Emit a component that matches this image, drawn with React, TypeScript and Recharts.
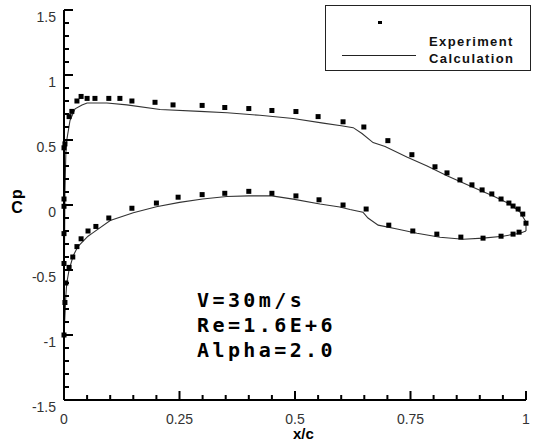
import React from "react";
import {
  ComposedChart,
  Line,
  Scatter,
  XAxis,
  YAxis
} from "recharts";

type Pt = {x: number; cp: number};

// tick labels
const xMajorTicks = [0, 0.25, 0.5, 0.75, 1];
const xTickLabels = ["0", "0.25", "0.5", "0.75", "1"];
const yMajorTicks = [-1.5, -1, -0.5, 0, 0.5, 1, 1.5];
const yTickLabels = ["-1.5", "-1", "-0.5", "0", "0.5", "1", "1.5"];

// experiment, upper branch
const expUpper: Pt[] = [
  {x: 0, cp: 0.44}, {x: 0.002, cp: 0.47}, {x: 0.011, cp: 0.68}, {x: 0.017, cp: 0.72},
  {x: 0.028, cp: 0.8}, {x: 0.037, cp: 0.835}, {x: 0.05, cp: 0.82}, {x: 0.067, cp: 0.82},
  {x: 0.097, cp: 0.82}, {x: 0.121, cp: 0.82}, {x: 0.147, cp: 0.8}, {x: 0.197, cp: 0.79},
  {x: 0.236, cp: 0.77}, {x: 0.299, cp: 0.766}, {x: 0.348, cp: 0.75}, {x: 0.4, cp: 0.742},
  {x: 0.45, cp: 0.727}, {x: 0.502, cp: 0.719}, {x: 0.55, cp: 0.68}, {x: 0.604, cp: 0.64},
  {x: 0.649, cp: 0.6}, {x: 0.701, cp: 0.495}, {x: 0.753, cp: 0.387}, {x: 0.803, cp: 0.294},
  {x: 0.829, cp: 0.247}, {x: 0.857, cp: 0.193}, {x: 0.883, cp: 0.155}, {x: 0.905, cp: 0.116},
  {x: 0.926, cp: 0.085}, {x: 0.946, cp: 0.046}, {x: 0.963, cp: 0.015}, {x: 0.972, cp: -0.008},
  {x: 0.983, cp: -0.031}, {x: 0.993, cp: -0.07}, {x: 1.0, cp: -0.14}
];

// experiment, lower branch
const expLower: Pt[] = [
  {x: 0, cp: 0.046}, {x: 0, cp: -0.01}, {x: 0, cp: -0.22}, {x: 0, cp: -0.45},
  {x: 0.004, cp: -0.6}, {x: 0.002, cp: -0.75}, {x: 0, cp: -1.0}, {x: 0.011, cp: -0.48},
  {x: 0.019, cp: -0.4}, {x: 0.028, cp: -0.32}, {x: 0.037, cp: -0.26}, {x: 0.052, cp: -0.2},
  {x: 0.069, cp: -0.165}, {x: 0.097, cp: -0.1}, {x: 0.147, cp: -0.025}, {x: 0.2, cp: 0.015},
  {x: 0.247, cp: 0.06}, {x: 0.299, cp: 0.08}, {x: 0.348, cp: 0.09}, {x: 0.4, cp: 0.105},
  {x: 0.45, cp: 0.09}, {x: 0.502, cp: 0.07}, {x: 0.552, cp: 0.04}, {x: 0.604, cp: 0.0},
  {x: 0.654, cp: -0.031}, {x: 0.703, cp: -0.155}, {x: 0.755, cp: -0.2}, {x: 0.807, cp: -0.224},
  {x: 0.859, cp: -0.247}, {x: 0.907, cp: -0.255}, {x: 0.946, cp: -0.24}, {x: 0.972, cp: -0.224},
  {x: 0.985, cp: -0.209}
];

// calculation, upper surface
const calcUpper: Pt[] = [
  {x: 0, cp: -1.0}, {x: 0.001, cp: -0.4}, {x: 0.002, cp: 0.1}, {x: 0.004, cp: 0.4},
  {x: 0.006, cp: 0.5}, {x: 0.013, cp: 0.65}, {x: 0.024, cp: 0.74}, {x: 0.039, cp: 0.77},
  {x: 0.05, cp: 0.785}, {x: 0.093, cp: 0.785}, {x: 0.136, cp: 0.77}, {x: 0.208, cp: 0.735},
  {x: 0.294, cp: 0.72}, {x: 0.353, cp: 0.71}, {x: 0.424, cp: 0.69}, {x: 0.496, cp: 0.665},
  {x: 0.561, cp: 0.63}, {x: 0.6, cp: 0.61}, {x: 0.626, cp: 0.595}, {x: 0.645, cp: 0.55},
  {x: 0.669, cp: 0.48}, {x: 0.695, cp: 0.45}, {x: 0.742, cp: 0.37}, {x: 0.786, cp: 0.3},
  {x: 0.829, cp: 0.225}, {x: 0.879, cp: 0.147}, {x: 0.929, cp: 0.07}, {x: 0.965, cp: 0.008},
  {x: 0.987, cp: -0.054}, {x: 1.0, cp: -0.13}, {x: 1.0, cp: -0.2}
];

// calculation, lower surface
const calcLower: Pt[] = [
  {x: 0, cp: -1.0}, {x: 0.002, cp: -0.85}, {x: 0.004, cp: -0.7}, {x: 0.006, cp: -0.6},
  {x: 0.011, cp: -0.5}, {x: 0.02, cp: -0.39}, {x: 0.03, cp: -0.32}, {x: 0.052, cp: -0.24},
  {x: 0.06, cp: -0.22}, {x: 0.1, cp: -0.12}, {x: 0.15, cp: -0.06}, {x: 0.2, cp: -0.014},
  {x: 0.25, cp: 0.02}, {x: 0.3, cp: 0.046}, {x: 0.352, cp: 0.065}, {x: 0.4, cp: 0.07},
  {x: 0.45, cp: 0.07}, {x: 0.496, cp: 0.045}, {x: 0.554, cp: 0.008}, {x: 0.597, cp: -0.015},
  {x: 0.619, cp: -0.035}, {x: 0.647, cp: -0.055}, {x: 0.658, cp: -0.1}, {x: 0.68, cp: -0.155},
  {x: 0.721, cp: -0.185}, {x: 0.764, cp: -0.217}, {x: 0.814, cp: -0.248}, {x: 0.864, cp: -0.263},
  {x: 0.907, cp: -0.255}, {x: 0.95, cp: -0.24}, {x: 0.987, cp: -0.217}, {x: 1.0, cp: -0.2}
];

const annotation = ["V=30m/s", "Re=1.6E+6", "Alpha=2.0"];

// minor ticks: every 0.05 on x, every 0.1 on y
const xTicks = Array.from({length: 21}, (_, i) => Math.round(i * 5) / 100);
const yTicks = Array.from({length: 31}, (_, i) => Math.round(-15 + i) / 10);

const near = (a: number, b: number) => Math.abs(a - b) < 1e-6;
const labelFont = "'Liberation Sans', Arial, sans-serif";

const XTick = (props: any) => {
  const {x, y, payload} = props;
  const idx = xMajorTicks.findIndex((t) => near(t, payload.value));
  return (
    <g>
      <line x1={x} x2={x} y1={y} y2={y - (idx >= 0 ? 9 : 5)} stroke="#000" strokeWidth={2} />
      {idx >= 0 && (
        <text x={x} y={y + 19} textAnchor="middle" dominantBaseline="central"
          fontFamily={labelFont} fontSize={14} fill="#333">
          {xTickLabels[idx]}
        </text>
      )}
    </g>
  );
};

const YTick = (props: any) => {
  const {x, y, payload} = props;
  const idx = yMajorTicks.findIndex((t) => near(t, payload.value));
  return (
    <g>
      <line x1={x} x2={x + (idx >= 0 ? 9 : 5)} y1={y} y2={y} stroke="#000" strokeWidth={2} />
      {idx >= 0 && (
        <text x={x - 8} y={y + 7} textAnchor="end" dominantBaseline="central"
          fontFamily={labelFont} fontSize={14} fill="#333">
          {yTickLabels[idx]}
        </text>
      )}
    </g>
  );
};

const square = (p: any) => (
  <rect x={p.cx - 2.5} y={p.cy - 2.5} width={5} height={5} fill="#000" />
);

export default function App() {
  return (
    <div style={{position: "absolute", left: 0, top: 0, width: 533, height: 442, background: "#fff"}}>
      <ComposedChart width={533} height={442} margin={{top: 10, right: 7, bottom: 0, left: 0}}>
        <XAxis
          type="number"
          dataKey="x"
          domain={[0, 1]}
          ticks={xTicks}
          interval={0}
          height={42}
          tickSize={0}
          tickMargin={0}
          tickLine={false}
          axisLine={{stroke: "#000", strokeWidth: 2}}
          tick={<XTick />}
          allowDuplicatedCategory={false}
        />
        <YAxis
          type="number"
          dataKey="cp"
          domain={[-1.5, 1.5]}
          ticks={yTicks}
          interval={0}
          width={64}
          tickSize={0}
          tickMargin={0}
          tickLine={false}
          axisLine={{stroke: "#000", strokeWidth: 2}}
          tick={<YTick />}
        />
        <Line data={calcUpper} dataKey="cp" type="linear" stroke="#333" strokeWidth={1.1}
          dot={false} activeDot={false} isAnimationActive={false} />
        <Line data={calcLower} dataKey="cp" type="linear" stroke="#333" strokeWidth={1.1}
          dot={false} activeDot={false} isAnimationActive={false} />
        <Scatter data={expUpper} dataKey="cp" shape={square} isAnimationActive={false} />
        <Scatter data={expLower} dataKey="cp" shape={square} isAnimationActive={false} />
      </ComposedChart>

      {/* axis titles */}
      <div style={{position: "absolute", left: 293, top: 425, fontFamily: labelFont,
        fontWeight: "bold", fontSize: 15, lineHeight: "18px"}}>x/c</div>
      <div style={{position: "absolute", left: 9, top: 187, width: 16, textAlign: "center",
        fontFamily: labelFont, fontWeight: "bold", fontSize: 16, lineHeight: "14px"}}>
        <div style={{display: "inline-block", transform: "rotate(-90deg)"}}>p</div>
        <div>C</div>
      </div>

      {/* legend */}
      <div style={{position: "absolute", left: 325, top: 5, width: 204, height: 64,
        border: "1.5px solid #222", background: "#fff"}}>
        <div style={{position: "absolute", left: 52, top: 15, width: 4, height: 3, background: "#000"}} />
        <div style={{position: "absolute", left: 16, top: 49, width: 74, height: 1, background: "#222"}} />
        <div style={{position: "absolute", left: 103, top: 27, fontFamily: labelFont, fontWeight: "bold",
          fontSize: 13, lineHeight: "17px", letterSpacing: 1.4, color: "#111"}}>
          Experiment<br />Calculation
        </div>
      </div>

      {/* run conditions */}
      <div style={{position: "absolute", left: 197, top: 288, fontFamily: "'DejaVu Sans Mono', monospace",
        fontWeight: "bold", fontSize: 20, lineHeight: "25px", letterSpacing: 3.4, color: "#000"}}>
        {annotation.map((s) => <div key={s}>{s}</div>)}
      </div>
    </div>
  );
}
